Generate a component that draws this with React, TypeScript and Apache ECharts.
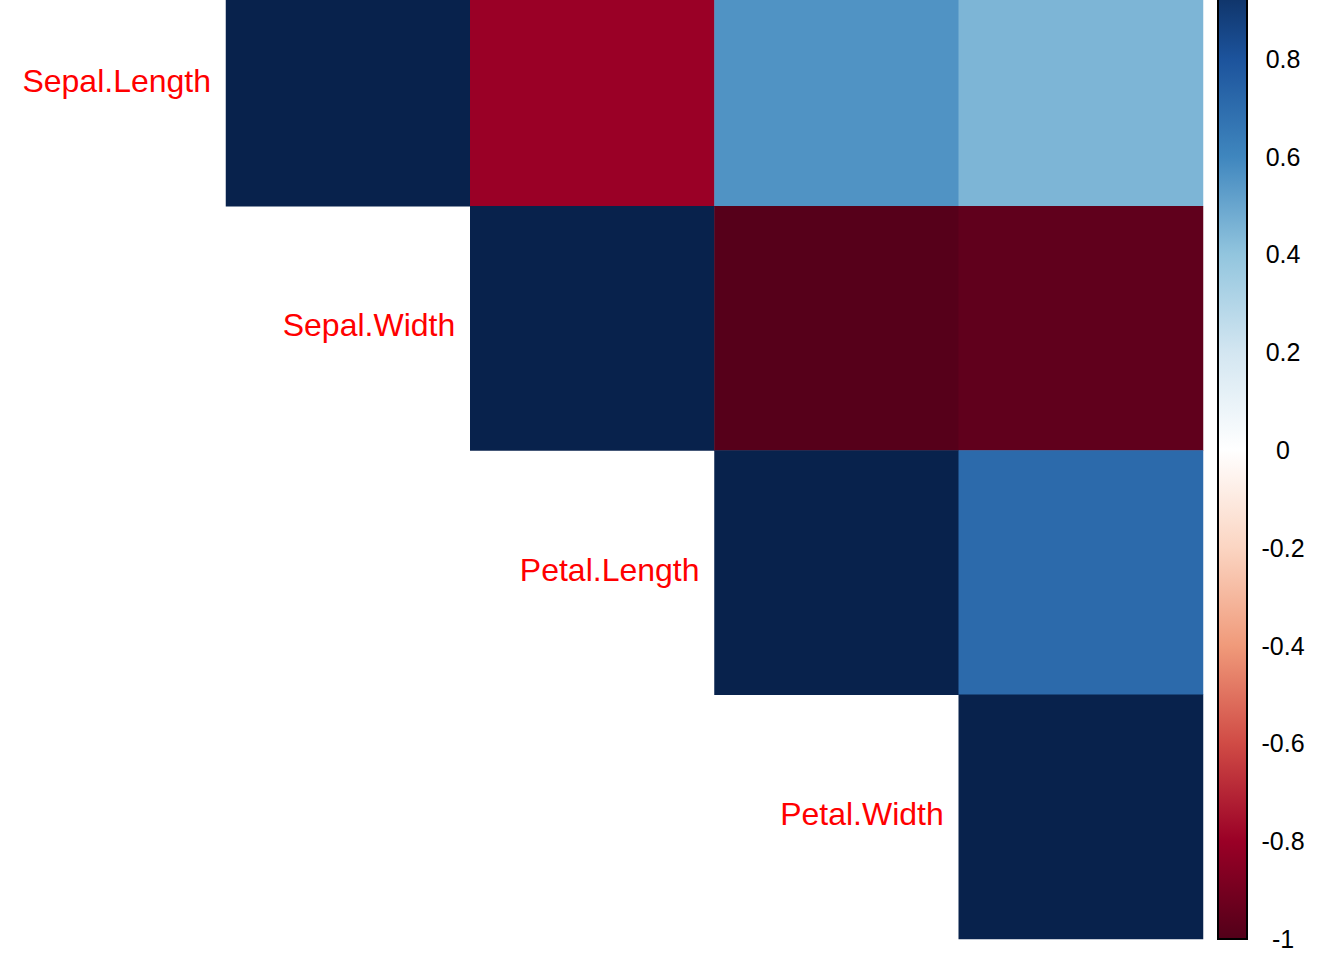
import React, { useEffect, useRef } from "react";
import * as echarts from "echarts";

const variables = ["Sepal.Length", "Sepal.Width", "Petal.Length", "Petal.Width"];
// upper triangle of the matrix (row i, columns j >= i)
const corrRows: (number | null)[][] = [
  [1, -0.8, 0.56, 0.45],
  [null, 1, -0.99, -0.96],
  [null, null, 1, 0.71],
  [null, null, null, 1],
];
const palette = [
  "#520019", "#9A0026", "#D04B45", "#F09A7A", "#FBD5C2", "#FFFFFF",
  "#D3E6F1", "#92C5DE", "#3F86BE", "#1C539C", "#08224C",
];
const colorbarTicks = [-1, -0.8, -0.6, -0.4, -0.2, 0, 0.2, 0.4, 0.6, 0.8, 1];

export default function App() {
  const ref = useRef<HTMLDivElement>(null);
  useEffect(() => {
    if (!ref.current) return;
    const chart = echarts.init(ref.current, null, { renderer: "svg" });
    const cells: number[][] = [];
    corrRows.forEach((row, i) =>
      row.forEach((v, j) => {
        if (v !== null) cells.push([j, i, v]);
      })
    );
    const diag = variables.map((_, i) => [i, i]);
    const stops = palette.map((c, i) => ({ offset: i / (palette.length - 1), color: c }));
    chart.setOption({
      animation: false,
      backgroundColor: "#FFFFFF",
      grid: [
        { left: 226, top: 1, width: 977, height: 977, outerBoundsMode: "none", containLabel: false },
        { left: 1218, top: 0, width: 29, height: 978, outerBoundsMode: "none", containLabel: false },
      ],
      xAxis: [
        { type: "category", data: variables, show: false, gridIndex: 0 },
        { type: "value", min: 0, max: 1, show: false, gridIndex: 1 },
      ],
      yAxis: [
        { type: "category", data: variables, inverse: true, show: false, gridIndex: 0 },
        {
          type: "value",
          gridIndex: 1,
          position: "right",
          min: -1,
          max: 1,
          interval: 0.2,
          axisLine: { show: true, lineStyle: { color: "#000", width: 2 } },
          axisTick: { show: true, length: 6, lineStyle: { color: "#000", width: 1.5 } },
          splitLine: { show: false },
          axisLabel: {
            color: "#000",
            fontSize: 25,
            fontFamily: "Liberation Sans, Arial, sans-serif",
            align: "center",
            margin: 36,
            showMaxLabel: false,
            formatter: (v: number) => {
              const t = colorbarTicks.find((x) => Math.abs(x - v) < 1e-6);
              return String(t !== undefined ? t : Math.round(v * 10) / 10);
            },
          },
        },
      ],
      visualMap: {
        type: "continuous",
        show: false,
        min: -1,
        max: 1,
        seriesIndex: 0,
        inRange: { color: palette },
      },
      series: [
        {
          type: "heatmap",
          xAxisIndex: 0,
          yAxisIndex: 0,
          data: cells,
          itemStyle: { borderWidth: 0 },
          emphasis: { disabled: true },
        },
        {
          type: "custom",
          xAxisIndex: 0,
          yAxisIndex: 0,
          data: diag,
          renderItem: (params: any, api: any) => {
            const c = api.coord([api.value(0), api.value(1)]);
            const s = api.size([1, 1]);
            return {
              type: "text",
              x: c[0] - s[0] / 2 - 15,
              y: c[1] - 3,
              style: {
                text: variables[params.dataIndex],
                fill: "#FF0000",
                fontSize: 32,
                fontFamily: "Liberation Sans, Arial, sans-serif",
                align: "right",
                verticalAlign: "middle",
              },
            };
          },
        },
        {
          type: "custom",
          xAxisIndex: 1,
          yAxisIndex: 1,
          data: [[0, 0]],
          renderItem: (params: any, api: any) => {
            const p1 = api.coord([0, -1]);
            const p2 = api.coord([1, 1]);
            return {
              type: "rect",
              shape: { x: p1[0], y: p2[1], width: p2[0] - p1[0], height: p1[1] - p2[1] },
              style: {
                fill: new echarts.graphic.LinearGradient(0, 1, 0, 0, stops),
                stroke: "#000",
                lineWidth: 2,
              },
            };
          },
        },
      ],
    });
    return () => chart.dispose();
  }, []);
  return (
    <div
      ref={ref}
      style={{ position: "fixed", left: 0, top: -39, width: 1344, height: 999 }}
    />
  );
}
